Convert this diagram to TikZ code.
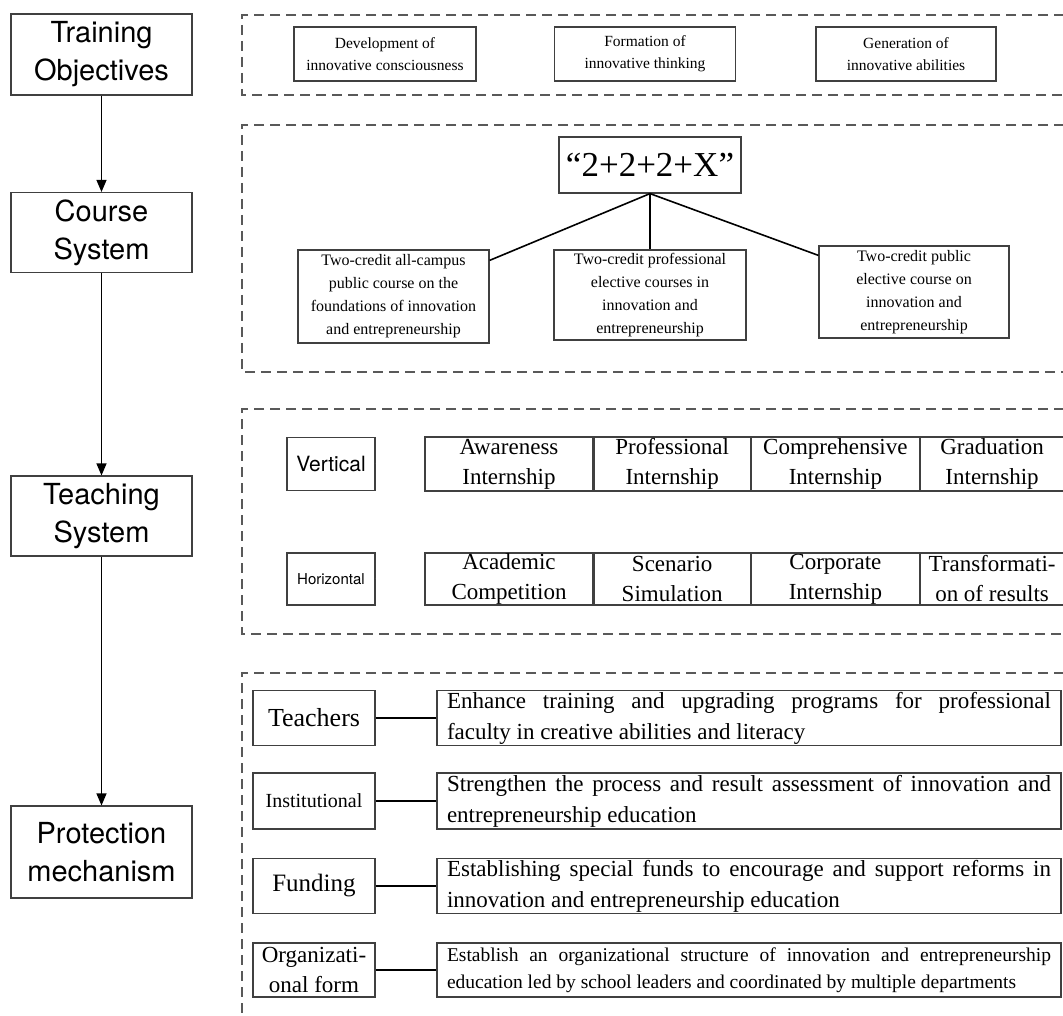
\documentclass[tikz,border=0pt]{standalone}
\usepackage{fontspec}
\setmainfont{Liberation Serif}
\setsansfont{TeX Gyre Heros}
\usetikzlibrary{arrows.meta,calc}
\definecolor{BoxClr}{rgb}{0.25,0.25,0.25}
\definecolor{FrameClr}{rgb}{0.35,0.35,0.35}
\definecolor{TwinClr}{rgb}{0.45,0.45,0.45}

\begin{document}
\begin{tikzpicture}[x=1pt,y=-1pt,
  stage/.style={draw=BoxClr,line width=1.1pt,inner sep=0pt,minimum width=181pt,align=center,font=\sffamily\fontsize{29}{38}\selectfont},
  dashframe/.style={draw=FrameClr,line width=1.4pt,dash pattern=on 10pt off 6pt},
  box/.style={draw=BoxClr,line width=1.2pt,inner sep=0pt,align=center},
  cell/.style={box,minimum height=54pt,font=\fontsize{23}{30}\selectfont},
  note/.style={draw=BoxClr,line width=1.2pt,inner xsep=10pt,inner ysep=0pt,text width=604pt,align=justify,minimum height=55pt,font=\fontsize{23}{31}\selectfont},
  flow/.style={-{Triangle[length=12pt,width=10pt]},line width=1.2pt},
  link/.style={line width=1.6pt},
  twin/.style={draw=TwinClr,double,double distance=1.2pt,line width=0.8pt}]
\useasboundingbox (0,0) rectangle (1063,1016);
\clip (0,0) rectangle (1063,1016);

% dashed frames
\draw[dashframe] (1080,15) -- (242,15) -- (242,95) -- (1080,95);
\draw[dashframe] (1080,125) -- (242,125) -- (242,372) -- (1080,372);
\draw[dashframe] (1080,409) -- (242,409) -- (242,634) -- (1080,634);
\draw[dashframe] (1080,673) -- (242,673) -- (242,1030);

% left column
\node[stage,minimum height=81pt] (TO) at (101.5,54.5) {Training\\Objectives};
\node[stage,minimum height=80pt] (CS) at (101.5,232.5) {Course\\System};
\node[stage,minimum height=80pt] (TS) at (101.5,516) {Teaching\\System};
\node[stage,minimum height=92pt] (PM) at (101.5,852) {Protection\\mechanism};
\draw[flow] (TO) -- (CS);
\draw[flow] (CS) -- (TS);
\draw[flow] (TS) -- (PM);

% objectives
\node[box,minimum width=182pt,minimum height=54pt,font=\fontsize{15.5}{22}\selectfont] (dev) at (385,54) {Development of\\innovative consciousness};
\node[box,minimum width=181pt,minimum height=54pt,font=\fontsize{15.5}{22}\selectfont] (form) at (645,54) {Formation of\\innovative thinking};
\node[box,minimum width=180pt,minimum height=54pt,font=\fontsize{15.5}{22}\selectfont] (gen) at (906,54) {Generation of\\innovative abilities};

% courses
\node[box,minimum width=182pt,minimum height=56pt,font=\fontsize{35}{40}\selectfont] (X) at (650,165) {``2+2+2+X''};
\node[box,minimum width=191pt,minimum height=93pt,font=\fontsize{16}{23}\selectfont] (cl) at (393.5,296.5) {Two-credit all-campus\\public course on the\\foundations of innovation\\and entrepreneurship};
\node[box,minimum width=192pt,minimum height=90pt,font=\fontsize{16}{23}\selectfont] (cm) at (650,295) {Two-credit professional\\elective courses in\\innovation and\\entrepreneurship};
\node[box,minimum width=190pt,minimum height=92pt,font=\fontsize{16}{23}\selectfont] (cr) at (914,292) {Two-credit public\\elective course on\\innovation and\\entrepreneurship};
\draw[link] (X.south) -- ($(cl.north east)+(0,11)$);
\draw[link] (X.south) -- (cm.north);
\draw[link] (X.south) -- ($(cr.north west)+(0,10)$);

% teaching
\node[box,minimum width=88pt,minimum height=53pt,font=\sffamily\fontsize{21}{24}\selectfont] (ver) at (331,464) {Vertical};
\node[cell,minimum width=168pt] (v1) at (509,464) {Awareness\\Internship};
\node[cell,minimum width=156pt,anchor=west] (v2) at (v1.east) {Professional\\Internship};
\node[cell,minimum width=168pt,anchor=west] (v3) at (v2.east) {Comprehensive\\Internship};
\node[cell,minimum width=143pt,anchor=west] (v4) at (v3.east) {Graduation\\Internship};
\draw[twin] (ver) -- (v1);

\node[box,minimum width=88pt,minimum height=52pt,font=\sffamily\fontsize{15}{18}\selectfont] (hor) at (331,579) {Horizontal};
\node[cell,minimum width=168pt,minimum height=52pt] (h1) at (509,579) {Academic\\Competition};
\node[cell,minimum width=156pt,minimum height=52pt,anchor=west] (h2) at (h1.east) {Scenario\\Simulation};
\node[cell,minimum width=168pt,minimum height=52pt,anchor=west] (h3) at (h2.east) {Corporate\\Internship};
\node[cell,minimum width=143pt,minimum height=52pt,anchor=west] (h4) at (h3.east) {Transformati-\\on of results};
\draw[twin] (hor) -- (h1);

% protection
\node[box,minimum width=122pt,minimum height=55pt,font=\fontsize{26}{28}\selectfont] (tea) at (314,718) {Teachers};
\node[note] (tea2) at (749,718) {Enhance training and upgrading programs for professional\linebreak faculty in creative abilities and literacy};
\draw[link] (tea) -- (tea2);

\node[box,minimum width=122pt,minimum height=56pt,font=\fontsize{20}{22}\selectfont] (ins) at (314,801) {Institutional};
\node[note,minimum height=56pt] (ins2) at (749,801) {Strengthen the process and result assessment of innovation and\linebreak entrepreneurship education};
\draw[link] (ins) -- (ins2);

\node[box,minimum width=122pt,minimum height=55pt,font=\fontsize{25}{28}\selectfont] (fund) at (314,886) {Funding};
\node[note] (fund2) at (749,886) {Establishing special funds to encourage and support reforms in\linebreak innovation and entrepreneurship education};
\draw[link] (fund) -- (fund2);

\node[box,minimum width=122pt,minimum height=54pt,font=\fontsize{23}{30}\selectfont] (org) at (314,970) {Organizati-\\onal form};
\node[note,minimum height=54pt,font=\fontsize{19.5}{27}\selectfont] (org2) at (749,970) {Establish an organizational structure of innovation and entrepreneurship\linebreak education led by school leaders and coordinated by multiple departments};
\draw[link] (org) -- (org2);
\end{tikzpicture}
\end{document}
